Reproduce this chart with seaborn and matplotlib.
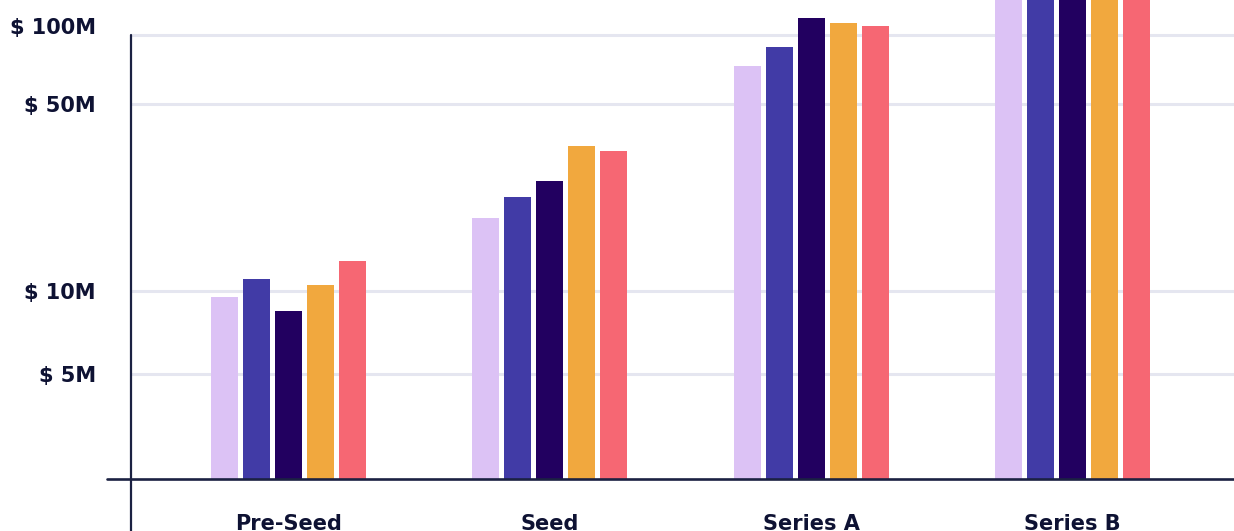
import numpy as np
import pandas as pd
import matplotlib
matplotlib.use("Agg")
import matplotlib.pyplot as plt
import matplotlib.transforms as mtransforms
from matplotlib.lines import Line2D
import seaborn as sns

# ---- data (USD millions) ----
stages = ["Pre-Seed", "Seed", "Series A", "Series B"]
cohorts = ["Cohort 1", "Cohort 2", "Cohort 3", "Cohort 4", "Cohort 5"]
cohort_1 = [9.5, 18.8, 73.0, 160.0]
cohort_2 = [11.1, 22.5, 88.5, 175.0]
cohort_3 = [8.5, 25.8, 118.5, 190.0]
cohort_4 = [10.6, 34.8, 112.5, 170.0]
cohort_5 = [13.0, 33.4, 109.5, 165.0]
tick_values = [5, 10, 50, 100]
tick_labels = ["$ 5M", "$ 10M", "$ 50M", "$ 100M"]
colors = ["#dcc2f5", "#413ba6", "#220060", "#f1a83e", "#f66773"]

# ---- axis ruler: log10(value) -> height above baseline (px) ----
ruler_log = np.log10([2.08, 5, 10, 50, 100, 1000])
ruler_pos = np.array([0.0, 105.0, 188.0, 375.3, 444.3, 673.5])


def forward(v):
    v = np.asarray(v, dtype=float)
    lv = np.log10(np.where(v > 0, v, 1e-6))
    return np.interp(lv, ruler_log, ruler_pos)


def inverse(u):
    u = np.asarray(u, dtype=float)
    return 10 ** np.interp(u, ruler_pos, ruler_log)


rows = []
for name, vals in zip(cohorts, [cohort_1, cohort_2, cohort_3, cohort_4, cohort_5]):
    for stage, val in zip(stages, vals):
        rows.append({"stage": stage, "cohort": name, "value": val})
df = pd.DataFrame(rows)

sns.set_theme(style="white")
plt.rcParams["font.family"] = ["DejaVu Sans"]

ink = "#0e1233"
axis_col = "#1b2142"
grid_col = "#e5e6f0"

W, H = 1234, 531
fig = plt.figure(figsize=(W / 100, H / 100), dpi=100)
ax_left, ax_bottom = 130.7, 479.3
ax = fig.add_axes([ax_left / W, (H - ax_bottom) / H, (W - ax_left) / W, ax_bottom / H])
ax.set_yscale("function", functions=(forward, inverse))

sns.barplot(data=df, x="stage", y="value", hue="cohort", order=stages,
            hue_order=cohorts, palette=colors, width=0.6123, gap=0.156,
            errorbar=None, legend=False, saturation=1, linewidth=0, ax=ax)

ax.set_ylim(10 ** ruler_log[0], 10 ** 2.1527)
ax.set_xlim(-0.6038, 3.618)

ax.set_yticks(tick_values)
ax.set_yticklabels(tick_labels)
ax.yaxis.set_minor_locator(matplotlib.ticker.NullLocator())
ax.tick_params(axis="y", length=0, pad=25, labelsize=15, labelcolor=ink)
ax.tick_params(axis="x", length=0, pad=25, labelsize=15, labelcolor=ink)
for lab in ax.get_yticklabels() + ax.get_xticklabels():
    lab.set_fontweight("bold")
# lift the top label above its gridline
top_lab = ax.get_yticklabels()[-1]
top_lab.set_transform(top_lab.get_transform() +
                      mtransforms.ScaledTranslation(0, 9 / 100, fig.dpi_scale_trans))

ax.set_xlabel("")
ax.set_ylabel("")
ax.grid(axis="y", color=grid_col, linewidth=2.2)
ax.grid(axis="x", visible=False)
ax.set_axisbelow(True)
for s in ax.spines.values():
    s.set_visible(False)

# axis lines
y100 = ax.transAxes.inverted().transform(ax.transData.transform((0, 100)))[1]
ax.add_line(Line2D([0, 0], [y100, -0.12], transform=ax.transAxes,
                   color=axis_col, linewidth=1.6, clip_on=False, zorder=5))
ax.add_line(Line2D([(107 - ax_left) / (W - ax_left), 1.0], [0, 0], transform=ax.transAxes,
                   color=axis_col, linewidth=1.9, clip_on=False, zorder=5))

fig.savefig("out.png", dpi=100, facecolor="white")
